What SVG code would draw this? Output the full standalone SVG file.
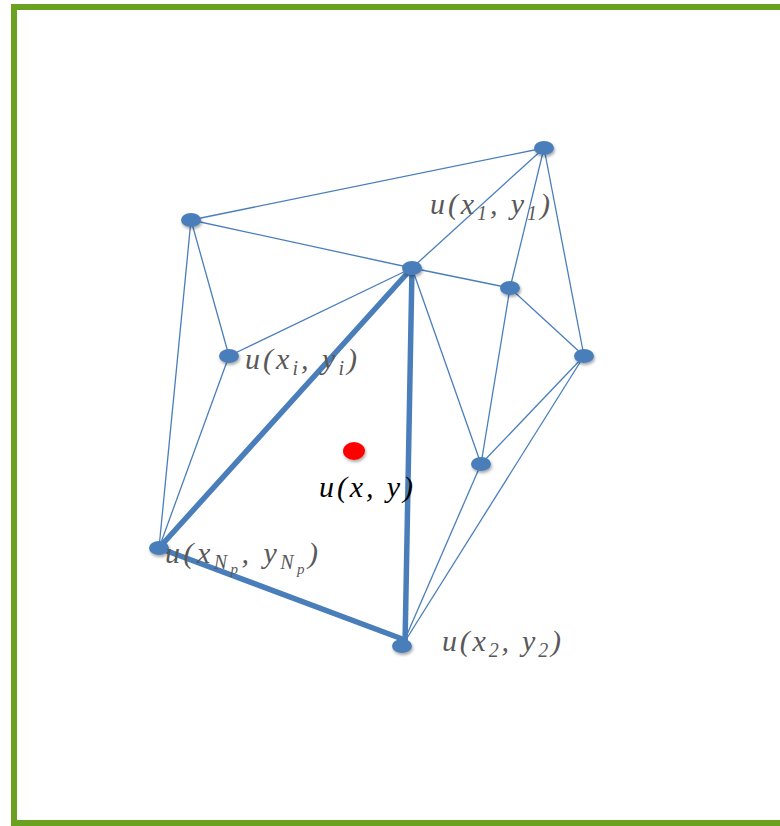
<svg xmlns="http://www.w3.org/2000/svg" width="780" height="826" viewBox="0 0 780 826">
<style>
.thin{stroke:#4a7ebb;stroke-width:1.3;fill:none}
.thick{stroke:#4a7ebb;stroke-width:5.5;fill:none;stroke-linecap:round}
.node{fill:#4a7ebb}
.lbl{font-family:"Liberation Serif","DejaVu Serif",serif;font-style:italic;font-size:30px;fill:#595959}
.sub{font-size:20px}
.sub2{font-size:15px}
</style>
<defs>
<filter id="sh" x="-50%" y="-50%" width="200%" height="200%">
<feDropShadow dx="1" dy="2" stdDeviation="1.5" flood-color="#000" flood-opacity="0.35"/>
</filter>
</defs>
<rect x="14" y="7" width="780" height="816" fill="#fff" stroke="#6aa121" stroke-width="6"/>
<g id="connectors">
<line class="thin" x1="191" y1="220" x2="544" y2="148"/>
<line class="thin" x1="191" y1="220" x2="412" y2="268"/>
<line class="thin" x1="191" y1="220" x2="229" y2="356"/>
<line class="thin" x1="191" y1="220" x2="159" y2="548"/>
<line class="thin" x1="544" y1="148" x2="412" y2="268"/>
<line class="thin" x1="544" y1="148" x2="510" y2="288"/>
<line class="thin" x1="544" y1="148" x2="584" y2="356"/>
<line class="thin" x1="412" y1="268" x2="510" y2="288"/>
<line class="thin" x1="412" y1="268" x2="229" y2="356"/>
<line class="thin" x1="412" y1="268" x2="481" y2="464"/>
<line class="thin" x1="510" y1="288" x2="481" y2="464"/>
<line class="thin" x1="510" y1="288" x2="584" y2="356"/>
<line class="thin" x1="584" y1="356" x2="481" y2="464"/>
<line class="thin" x1="584" y1="356" x2="402" y2="646"/>
<line class="thin" x1="481" y1="464" x2="402" y2="646"/>
<line class="thin" x1="229" y1="356" x2="159" y2="548"/>
<line class="thick" x1="412" y1="268" x2="159" y2="548"/>
<line class="thick" x1="412" y1="268" x2="405" y2="646"/>
<line class="thick" x1="159" y1="548" x2="405" y2="640"/>
</g>
<g id="n1" filter="url(#sh)"><ellipse class="node" cx="191" cy="220" rx="10" ry="7"/></g>
<g id="n2" filter="url(#sh)"><ellipse class="node" cx="544" cy="148" rx="10" ry="7"/></g>
<g id="n3" filter="url(#sh)"><ellipse class="node" cx="412" cy="268" rx="10" ry="7"/></g>
<g id="n4" filter="url(#sh)"><ellipse class="node" cx="510" cy="288" rx="10" ry="7"/></g>
<g id="n5" filter="url(#sh)"><ellipse class="node" cx="584" cy="356" rx="10" ry="7"/></g>
<g id="n6" filter="url(#sh)"><ellipse class="node" cx="229" cy="356" rx="10" ry="7"/></g>
<g id="n7" filter="url(#sh)"><ellipse class="node" cx="481" cy="464" rx="10" ry="7"/></g>
<g id="n8" filter="url(#sh)"><ellipse class="node" cx="159" cy="548" rx="10" ry="7"/></g>
<g id="n9" filter="url(#sh)"><ellipse class="node" cx="402" cy="646" rx="10" ry="7"/></g>
<g id="point" filter="url(#sh)"><ellipse cx="354" cy="451" rx="11" ry="9" fill="#ff0000"/></g>
<g id="labels">
<text class="lbl" x="430" y="214" textLength="120" lengthAdjust="spacing">u(x<tspan class="sub" dy="6">1</tspan><tspan dy="-6">, y</tspan><tspan class="sub" dy="6">1</tspan><tspan dy="-6">)</tspan></text>
<text class="lbl" x="245" y="369" textLength="112" lengthAdjust="spacing">u(x<tspan class="sub" dy="6">i</tspan><tspan dy="-6">, y</tspan><tspan class="sub" dy="6">i</tspan><tspan dy="-6">)</tspan></text>
<text class="lbl" x="165" y="563" textLength="153" lengthAdjust="spacing">u(x<tspan class="sub" dy="6">N</tspan><tspan class="sub2" dy="5">p</tspan><tspan dy="-11">, y</tspan><tspan class="sub" dy="6">N</tspan><tspan class="sub2" dy="5">p</tspan><tspan dy="-11">)</tspan></text>
<text class="lbl" x="442" y="651" textLength="119" lengthAdjust="spacing">u(x<tspan class="sub" dy="6">2</tspan><tspan dy="-6">, y</tspan><tspan class="sub" dy="6">2</tspan><tspan dy="-6">)</tspan></text>
<text class="lbl" x="319" y="497" style="fill:#000" textLength="94" lengthAdjust="spacing">u(x, y)</text>
</g>
</svg>
